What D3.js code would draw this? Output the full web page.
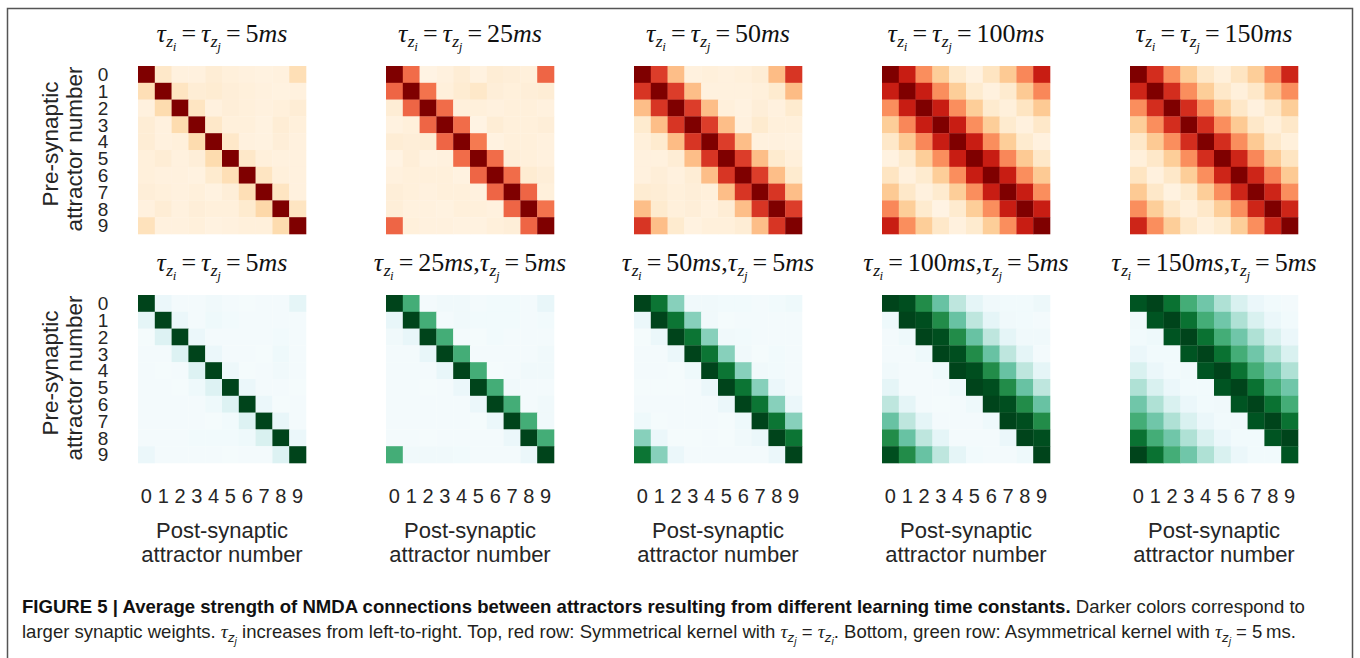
<!DOCTYPE html>
<html><head><meta charset="utf-8">
<script src="https://cdn.jsdelivr.net/npm/d3@7"></script>
<style>body{margin:0;background:#fff} svg{display:block}</style>
</head><body>
<svg id="chart" width="1360" height="658"></svg>
<script>
// ---------- data ----------
const attractors = [0,1,2,3,4,5,6,7,8,9];
const tickLabels = ["0","1","2","3","4","5","6","7","8","9"];
const tauValues = ["5","25","50","100","150"];

const red5 = [
 [100,12,5,5,8,6,5,4,5,18],
 [18,100,14,8,9,7,6,5,4,5],
 [5,20,100,14,5,7,6,5,6,8],
 [8,5,20,100,12,6,6,4,8,6],
 [8,5,6,20,100,12,5,4,7,5],
 [6,8,5,7,20,100,12,6,5,5],
 [6,5,5,4,10,18,100,14,6,5],
 [7,6,5,6,4,7,18,100,14,5],
 [5,8,5,7,6,6,10,22,100,14],
 [16,5,5,6,4,5,6,6,20,100]
];
const red25 = [
 [100,60,3,5,8,4,8,7,6,62],
 [62,100,58,6,9,12,7,6,7,8],
 [8,62,100,60,6,6,5,6,6,5],
 [4,6,62,100,60,3,8,6,6,7],
 [8,7,8,62,100,56,4,6,6,5],
 [3,7,4,5,60,100,60,7,6,5],
 [5,6,6,6,4,62,100,60,9,7],
 [7,6,5,6,6,5,62,100,62,6],
 [7,5,5,4,6,6,5,62,100,58],
 [62,6,5,5,4,4,6,7,62,100]
];
const red50 = [
 [100,72,35,5,6,5,6,8,36,74],
 [74,100,72,35,5,5,5,6,10,36],
 [35,74,100,72,35,6,4,7,5,10],
 [10,35,74,100,72,35,5,10,6,6],
 [6,10,36,74,100,72,35,5,5,4],
 [5,5,8,35,74,100,72,35,10,6],
 [5,7,5,8,35,74,100,72,35,10],
 [9,8,6,7,6,35,74,100,74,35],
 [35,10,6,7,5,8,35,74,100,72],
 [74,35,10,4,6,6,8,35,74,100]
];
const red100 = [
 [100,80,50,28,10,4,14,30,52,80],
 [80,100,80,50,28,10,5,10,30,52],
 [50,80,100,80,50,28,10,6,14,30],
 [28,52,80,100,80,50,28,10,5,12],
 [12,30,52,80,100,80,50,28,10,5],
 [4,10,28,50,80,100,80,52,30,12],
 [14,5,10,28,50,80,100,80,50,30],
 [30,12,5,10,28,50,80,100,80,50],
 [52,28,10,3,10,28,50,80,100,80],
 [80,50,28,12,5,10,28,50,80,100]
];
const red150 = [
 [100,76,50,28,12,6,14,28,50,78],
 [78,100,76,50,28,12,6,12,32,50],
 [50,76,100,76,50,28,12,5,12,28],
 [28,50,76,100,76,50,30,12,6,12],
 [12,30,50,76,100,76,50,30,12,6],
 [6,12,28,50,76,100,78,52,30,14],
 [14,5,12,28,50,78,100,78,54,30],
 [30,12,4,10,28,50,78,100,78,50],
 [50,28,12,6,12,28,50,78,100,78],
 [78,50,28,12,6,10,28,50,78,100]
];
const green5 = [
 [100,8,3,3,5,3,2,3,3,12],
 [12,100,8,3,6,4,3,3,3,3],
 [2,16,100,8,3,3,3,3,4,3],
 [3,3,16,100,8,3,3,2,6,3],
 [3,2,3,16,100,7,2,3,5,3],
 [3,3,2,6,16,100,8,3,3,2],
 [3,3,3,3,6,16,100,8,2,3],
 [3,3,3,3,2,4,16,100,10,3],
 [3,3,3,4,4,4,6,18,100,8],
 [8,3,3,3,3,2,3,3,16,100]
];
const green25 = [
 [100,62,3,5,5,3,4,4,3,10],
 [10,100,62,3,5,4,4,4,3,4],
 [5,10,100,62,3,2,4,3,3,3],
 [3,3,10,100,62,3,3,3,3,5],
 [3,3,3,10,100,62,2,3,5,5],
 [3,3,2,3,8,100,62,5,3,3],
 [3,3,3,3,3,8,100,62,3,5],
 [3,3,3,3,3,2,8,100,62,5],
 [3,3,2,3,3,3,3,8,100,62],
 [62,5,5,5,4,3,3,3,8,100]
];
const green50 = [
 [100,84,42,5,5,4,4,3,4,6],
 [8,100,84,42,5,2,3,3,3,3],
 [2,8,100,84,42,5,4,3,3,3],
 [3,3,8,100,84,42,5,2,4,3],
 [3,3,2,6,100,84,42,5,4,3],
 [2,2,2,3,8,100,84,42,8,3],
 [3,3,3,3,3,8,100,84,42,8],
 [6,2,3,3,3,2,6,100,84,42],
 [42,8,2,2,3,2,5,8,100,84],
 [84,42,8,3,3,3,3,3,8,100]
];
const green100 = [
 [100,97,75,50,28,12,5,4,4,7],
 [6,100,97,75,50,28,12,5,4,3],
 [3,6,100,97,75,50,28,12,5,5],
 [3,3,6,100,97,75,50,28,12,3],
 [5,3,3,6,100,97,75,50,28,12],
 [12,3,3,3,6,100,97,75,50,28],
 [28,12,3,2,3,6,100,97,75,50],
 [50,28,12,3,3,3,6,100,97,75],
 [75,50,28,12,3,3,3,8,100,97],
 [97,75,50,28,12,4,3,3,6,100]
];
const green150 = [
 [95,100,85,62,48,32,18,8,4,3],
 [5,95,100,85,62,48,32,18,8,4],
 [4,6,95,100,85,62,48,32,18,8],
 [8,4,4,95,100,85,62,48,32,18],
 [18,8,4,5,95,100,85,62,48,32],
 [32,18,8,4,4,95,100,85,62,48],
 [48,32,18,8,4,5,95,100,85,62],
 [62,48,32,18,8,4,5,95,100,85],
 [85,62,48,32,18,8,4,4,95,100],
 [100,85,62,48,32,18,8,4,4,95]
];

const redData = [red5, red25, red50, red100, red150];
const greenData = [green5, green25, green50, green100, green150];

// title tokens
const redTitles = tauValues.map(v => ["ti","=","tj","=",v,"ms"]);
const greenTitles = tauValues.map((v,k) => k===0 ? ["ti","=","tj","=","5","ms"] : ["ti","=",v,"ms",",","tj","=","5","ms"]);

const yLabelLines = ["Pre-synaptic","attractor number"];
const xLabelLines = ["Post-synaptic","attractor number"];

const captionBold = "FIGURE 5 | Average strength of NMDA connections between attractors resulting from different learning time constants.";
const captionLine1 = " Darker colors correspond to";
const captionLine2 = [
  {t:"larger synaptic weights. "}, {tau:"j"},
  {t:" increases from left-to-right. Top, red row: Symmetrical kernel with "}, {tau:"j"},
  {t:" = "}, {tau:"i"},
  {t:". Bottom, green row: Asymmetrical kernel with "}, {tau:"j"},
  {t:" = 5\u2009ms."}
];

// ---------- layout ----------
const svg = d3.select("#chart");
const W = 168, X0 = 138, XSTEP = 248, ROWY = [66, 295];
const sansFont = "'Liberation Sans', Arial, sans-serif";
const serifFont = "'Liberation Serif', 'DejaVu Serif', serif";

svg.append("rect").attr("x",7.5).attr("y",8.5).attr("width",1345).attr("height",700)
  .attr("fill","none").attr("stroke","#555").attr("stroke-width",1.5);

// rich text builder with tracked baseline shifts
function richText(textSel) {
  let shift = 0, pendingDx = 0;
  return function put(str, o) {
    o = o || {};
    const ts = textSel.append("tspan").text(str);
    const target = o.dy || 0;
    if (target - shift !== 0) ts.attr("dy", target - shift);
    shift = target;
    const dx = (o.dx || 0) + pendingDx; pendingDx = o.after || 0;
    if (dx) ts.attr("dx", dx);
    if (o.size) ts.attr("font-size", o.size);
    if (o.italic) ts.attr("font-style","italic");
    if (o.bold) ts.attr("font-weight","bold");
    if (o.family) ts.attr("font-family", o.family);
    if (o.fill) ts.attr("fill", o.fill);
    return ts;
  };
}

function mathTitle(tokens, cx, baseY, size) {
  const t = svg.append("text").attr("x",cx).attr("y",baseY).attr("text-anchor","middle")
    .attr("font-family",serifFont).attr("font-size",size).attr("fill","#111");
  const put = richText(t);
  tokens.forEach(tok => {
    if (tok === "ti" || tok === "tj") {
      put("τ", {italic:true});
      put("z", {italic:true, size:size*0.68, dy:size*0.2, dx:0.5});
      put(tok === "ti" ? "i" : "j", {italic:true, size:size*0.5, dy:size*0.34, dx:-0.5});
    } else if (tok === "=") {
      put("=", {dx:5, after:5});
    } else if (tok === "ms") {
      put("ms", {italic:true});
    } else {
      put(tok, {});
    }
  });
}

function drawPanel(row, col, data, interp, title) {
  const gx = X0 + col*XSTEP, gy = ROWY[row];
  const g = svg.append("g").attr("transform",`translate(${gx},${gy})`);
  const x = d3.scaleBand().domain(attractors).range([0,W]);
  const y = d3.scaleBand().domain(attractors).range([0,W]);
  const color = d3.scaleSequential(interp).domain([0,100]);
  const cells = data.flatMap((r,i)=>r.map((v,j)=>({i,j,v})));
  g.selectAll("rect.cell").data(cells).join("rect").attr("class","cell")
    .attr("x",d=>x(attractors[d.j])).attr("y",d=>y(attractors[d.i]))
    .attr("width",x.bandwidth()+0.3).attr("height",y.bandwidth()+0.3)
    .attr("fill",d=>color(d.v));

  mathTitle(title, gx+W/2, gy-24, 26);

  if (col === 0) {
    const ax = g.append("g").call(d3.axisLeft(y).tickSize(0).tickFormat(d=>tickLabels[d]));
    ax.select(".domain").remove();
    ax.selectAll("text").attr("x",-35).attr("dy","0.36em")
      .attr("text-anchor","middle").attr("font-family",sansFont).attr("font-size",19).attr("fill","#262626");
    const lab = g.append("g").attr("font-family",sansFont).attr("font-size",22.5).attr("fill","#262626")
      .attr("text-anchor","middle");
    lab.append("text").attr("transform",`translate(-80,${W/2-6}) rotate(-90)`).text(yLabelLines[0]);
    lab.append("text").attr("transform",`translate(-56,${W/2-1}) rotate(-90)`).text(yLabelLines[1]);
  }
  if (row === 1) {
    const ax = g.append("g").attr("transform",`translate(0,${W})`)
      .call(d3.axisBottom(x).tickSize(0).tickPadding(26).tickFormat(d=>tickLabels[d]));
    ax.select(".domain").remove();
    ax.selectAll("text").attr("font-family",sansFont).attr("font-size",20).attr("fill","#262626");
    const lab = g.append("g").attr("font-family",sansFont).attr("font-size",22).attr("fill","#262626")
      .attr("text-anchor","middle");
    lab.append("text").attr("x",W/2).attr("y",W+75).text(xLabelLines[0]);
    lab.append("text").attr("x",W/2).attr("y",W+99).text(xLabelLines[1]);
  }
}

redData.forEach((d,k)=>drawPanel(0,k,d,d3.interpolateOrRd,redTitles[k]));
greenData.forEach((d,k)=>drawPanel(1,k,d,d3.interpolateBuGn,greenTitles[k]));

// ---------- caption ----------
const CAPX = 22;
const cap = svg.append("g").attr("font-family",sansFont).attr("font-size",18).attr("fill","#231f20");
const l1 = cap.append("text").attr("x",CAPX).attr("y",613);
const p1 = richText(l1);
p1(captionBold, {bold:true, fill:"#111"});
p1(captionLine1, {});

const l2 = cap.append("text").attr("x",CAPX).attr("y",638);
const p2 = richText(l2);
captionLine2.forEach(seg => {
  if (seg.tau) {
    p2("τ", {italic:true, family:serifFont, size:19});
    p2("z", {italic:true, size:13, dy:4});
    p2(seg.tau, {italic:true, size:10, dy:7});
  } else {
    p2(seg.t, {});
  }
});

function fitWidth(sel, target) {
  const w = sel.node().getBBox().width;
  const s = target / w;
  sel.attr("transform", `translate(${CAPX},0) scale(${s},1) translate(${-CAPX},0)`);
}
fitWidth(l1, 1284);
fitWidth(l2, 1275);
</script>
</body></html>
